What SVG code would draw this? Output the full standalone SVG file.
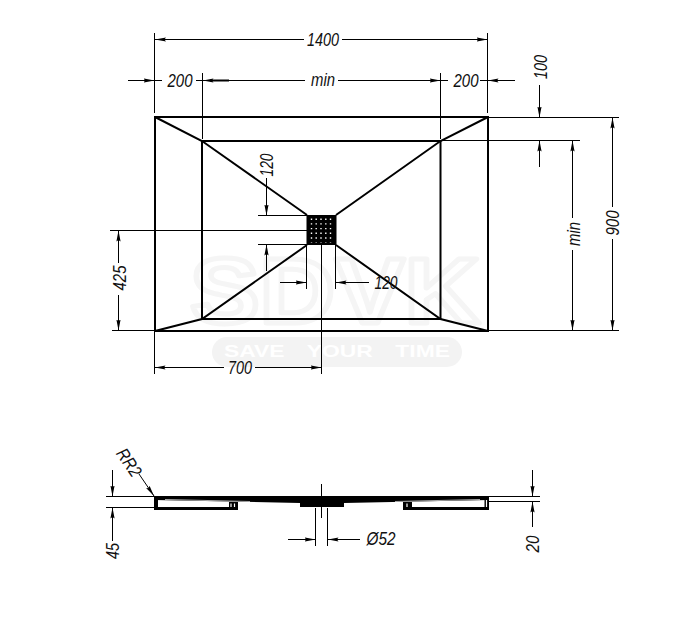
<svg xmlns="http://www.w3.org/2000/svg" width="677" height="625" viewBox="0 0 677 625">
<style>
.t{font-family:"Liberation Sans",Arial,sans-serif;font-style:italic;font-size:18px;fill:#111;text-anchor:middle}
.d{stroke:#000;stroke-width:1;fill:none}
.a{marker-end:url(#ah)}
.k{stroke:#000;stroke-width:2;fill:none}
.w1{font-family:"Liberation Sans",Arial,sans-serif;font-weight:bold;font-size:92px;fill:#fff;stroke:#f5f5f5;stroke-width:5;stroke-linejoin:round;text-anchor:middle}
.w2{font-family:"Liberation Sans",Arial,sans-serif;font-weight:bold;font-size:17px;fill:#fff;text-anchor:middle}
</style>
<defs>
<marker id="ah" viewBox="0 0 11 5" refX="11" refY="2.500" markerWidth="11" markerHeight="5" markerUnits="userSpaceOnUse" orient="auto"><path d="M0 0.400L11 2.500L0 4.600L1.500 2.500Z" fill="#000"/></marker>
</defs>
<rect width="677" height="625" fill="#fff"/>
<g id="watermark">
<text class="w1" x="335" y="323" textLength="290" lengthAdjust="spacingAndGlyphs">SDVK</text>
<rect x="212" y="337" width="250" height="30" rx="15" fill="#f3f3f3"/>
<text class="w2" x="337" y="357" textLength="226" lengthAdjust="spacingAndGlyphs" word-spacing="12">SAVE YOUR TIME</text>
</g>
<g id="plan-view">
<rect class="k" x="155" y="117" width="333" height="214"/>
<rect class="k" x="202" y="141" width="238.500" height="178"/>
<path class="k" d="M155 117L202 141L307 215M488 117L440.500 141L336 215M155 331L202 319L307 245M488 331L440.500 319L336 245"/>
</g>
<g id="drain">
<rect x="306.500" y="215" width="30" height="30" fill="#000"/>
<path d="M311.500 218.500V242.500M316.200 218.500V242.500M321 218.500V242.500M325.800 218.500V242.500M330.500 218.500V242.500" stroke="#fff" stroke-width="1.400" stroke-dasharray="1.400 3.300"/>
</g>
<g id="connectors">
<path class="d" d="M154.500 33V113M487.500 33V113M202.500 73V139M440.500 73V139M488 117.500H619M441 140.500H580M110 230.500H307M112 330.500H155M488 330.500H619M154.500 331V374M321.500 245V374M258 215.500H307M258 244.500H307M306.500 245V289M335.500 245V289"/>
<path class="d a" d="M304 39.500H155"/><path class="d a" d="M342 39.500H487.500"/>
<path class="d a" d="M128 80.500H154.500"/><path class="d" d="M155 80.500H162M196 80.500H202"/>
<path class="d a" d="M305 80.500H202.500"/><path d="M210 80.500H229" stroke="#000" stroke-width="2"/>
<path class="d a" d="M338 80.500H440.500"/>
<path class="d" d="M441 80.500H448M480 80.500H488"/><path class="d a" d="M515 80.500H487.500"/>
<path class="d a" d="M539.500 85V117.500"/><path class="d a" d="M539.500 167V140.500"/>
<path class="d a" d="M572.500 218V140.500"/><path class="d a" d="M572.500 250V330.500"/>
<path class="d a" d="M612.500 207V117.500"/><path class="d a" d="M612.500 239V330.500"/>
<path class="d a" d="M118.500 263V230.500"/><path class="d a" d="M118.500 295V330.500"/>
<path class="d a" d="M224 367.500H154.500"/><path class="d a" d="M255 367.500H321.500"/>
<path class="d a" d="M266.500 178V215.500"/><path class="d a" d="M266.500 271V244.500"/>
<path class="d a" d="M280 282.500H306.500"/><path class="d a" d="M369 282.500H335.500"/>
<path class="d" d="M106 496.500H154M106 507.500H154M488 496.500H540M488 501.500H540M315.500 508V546M327.500 508V546M321.500 484V518"/>
<path class="d a" d="M112.500 470V496.500"/><path class="d a" d="M112.500 541V507.500"/>
<path class="d a" d="M139 474L154 496"/>
<path class="d a" d="M532.500 470V496.500"/><path class="d a" d="M532.500 527V501.500"/>
<path class="d a" d="M288 539.500H315.500"/><path class="d a" d="M360 539.500H327.500"/>
</g>
<g id="section-view">
<path d="M154 496H489V500L344 503V507H300V503L154 500Z" fill="#000"/>
<path d="M165 499.500L250 501.500" stroke="#aaa" stroke-width="1"/>
<path d="M395 501.500L480 499.500" stroke="#aaa" stroke-width="1"/>
<path d="M154 499H158V507H229V502H238V510H154Z" fill="#000"/>
<path d="M489 499H484.500V507H412V502H403V510H489Z" fill="#000"/>
<path d="M231 503.500V507M234.500 503.500V507M407 503.500V507M486.500 500V507" stroke="#fff" stroke-width="1.200"/>
</g>
<g id="labels">
<text class="t" x="323" y="46" textLength="32" lengthAdjust="spacingAndGlyphs">1400</text>
<text class="t" x="180" y="87" textLength="25" lengthAdjust="spacingAndGlyphs">200</text>
<text class="t" x="323" y="86" textLength="24" lengthAdjust="spacingAndGlyphs">min</text>
<text class="t" x="466" y="87" textLength="25" lengthAdjust="spacingAndGlyphs">200</text>
<text class="t" transform="translate(547,67) rotate(-90)" textLength="24" lengthAdjust="spacingAndGlyphs">100</text>
<text class="t" transform="translate(580,234) rotate(-90)" textLength="24" lengthAdjust="spacingAndGlyphs">min</text>
<text class="t" transform="translate(619,223) rotate(-90)" textLength="25" lengthAdjust="spacingAndGlyphs">900</text>
<text class="t" transform="translate(126,278) rotate(-90)" textLength="25" lengthAdjust="spacingAndGlyphs">425</text>
<text class="t" x="240" y="374" textLength="24" lengthAdjust="spacingAndGlyphs">700</text>
<text class="t" transform="translate(273,165) rotate(-90)" textLength="23" lengthAdjust="spacingAndGlyphs">120</text>
<text class="t" x="386" y="289" textLength="23" lengthAdjust="spacingAndGlyphs">120</text>
<text class="t" transform="translate(124,466) rotate(56)" textLength="30" lengthAdjust="spacingAndGlyphs">RR2</text>
<text class="t" transform="translate(119,551) rotate(-90)" textLength="16" lengthAdjust="spacingAndGlyphs">45</text>
<text class="t" x="381" y="545" textLength="29" lengthAdjust="spacingAndGlyphs">Ø52</text>
<text class="t" transform="translate(539,544) rotate(-90)" textLength="17" lengthAdjust="spacingAndGlyphs">20</text>
</g>
</svg>
